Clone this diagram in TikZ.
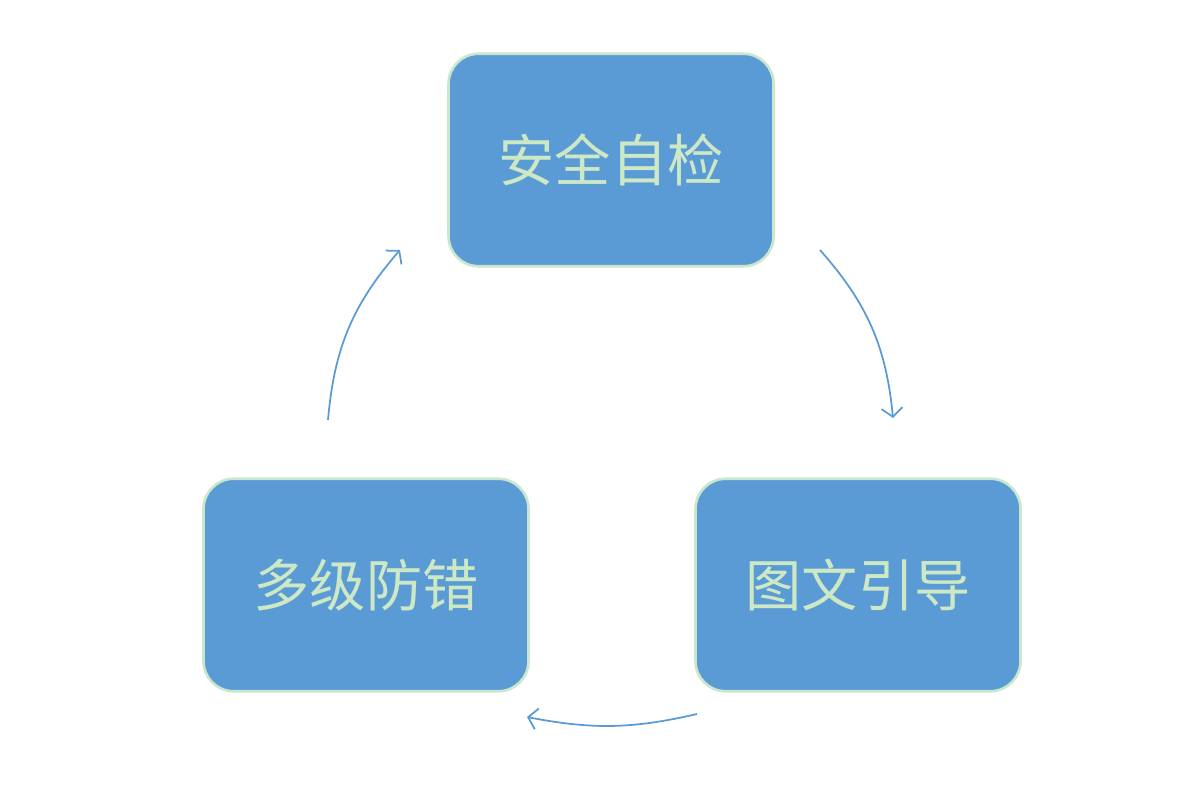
\documentclass[tikz,border=0pt]{standalone}
\usepackage{fontspec}
\newfontfamily\cjk{Noto Sans CJK SC}
\usetikzlibrary{arrows.meta}
\definecolor{boxfill}{HTML}{5B9BD5}
\definecolor{boxline}{HTML}{C9E7CC}
\definecolor{txt}{HTML}{CDE8C4}
\begin{document}
\begin{tikzpicture}[x=0.02cm,y=-0.02cm,
  box/.style={draw=boxline,line width=1.5pt,fill=boxfill,rounded corners=0.6cm,
    minimum width=6.5cm,minimum height=4.25cm,text=txt,font=\cjk\fontsize{32}{36}\selectfont},
  conn/.style={draw=boxfill,line width=1pt,-{Straight Barb[length=5pt,width=12pt]}}]
\useasboundingbox (0,0) rectangle (1200,800);
\node[box] (a) at (611,160) {安全自检};
\node[box] (b) at (858,585) {图文引导};
\node[box] (c) at (366,585) {多级防错};
\coordinate (a1) at (820,250); \coordinate (a2) at (893,418);
\coordinate (b1) at (697,714); \coordinate (b2) at (527,717);
\coordinate (c1) at (328,420); \coordinate (c2) at (400,250);
\draw[conn] (a1) to[bend left=18] (a2);
\draw[conn] (b1) to[bend left=12] (b2);
\draw[conn] (c1) to[bend left=18] (c2);
\end{tikzpicture}
\end{document}
